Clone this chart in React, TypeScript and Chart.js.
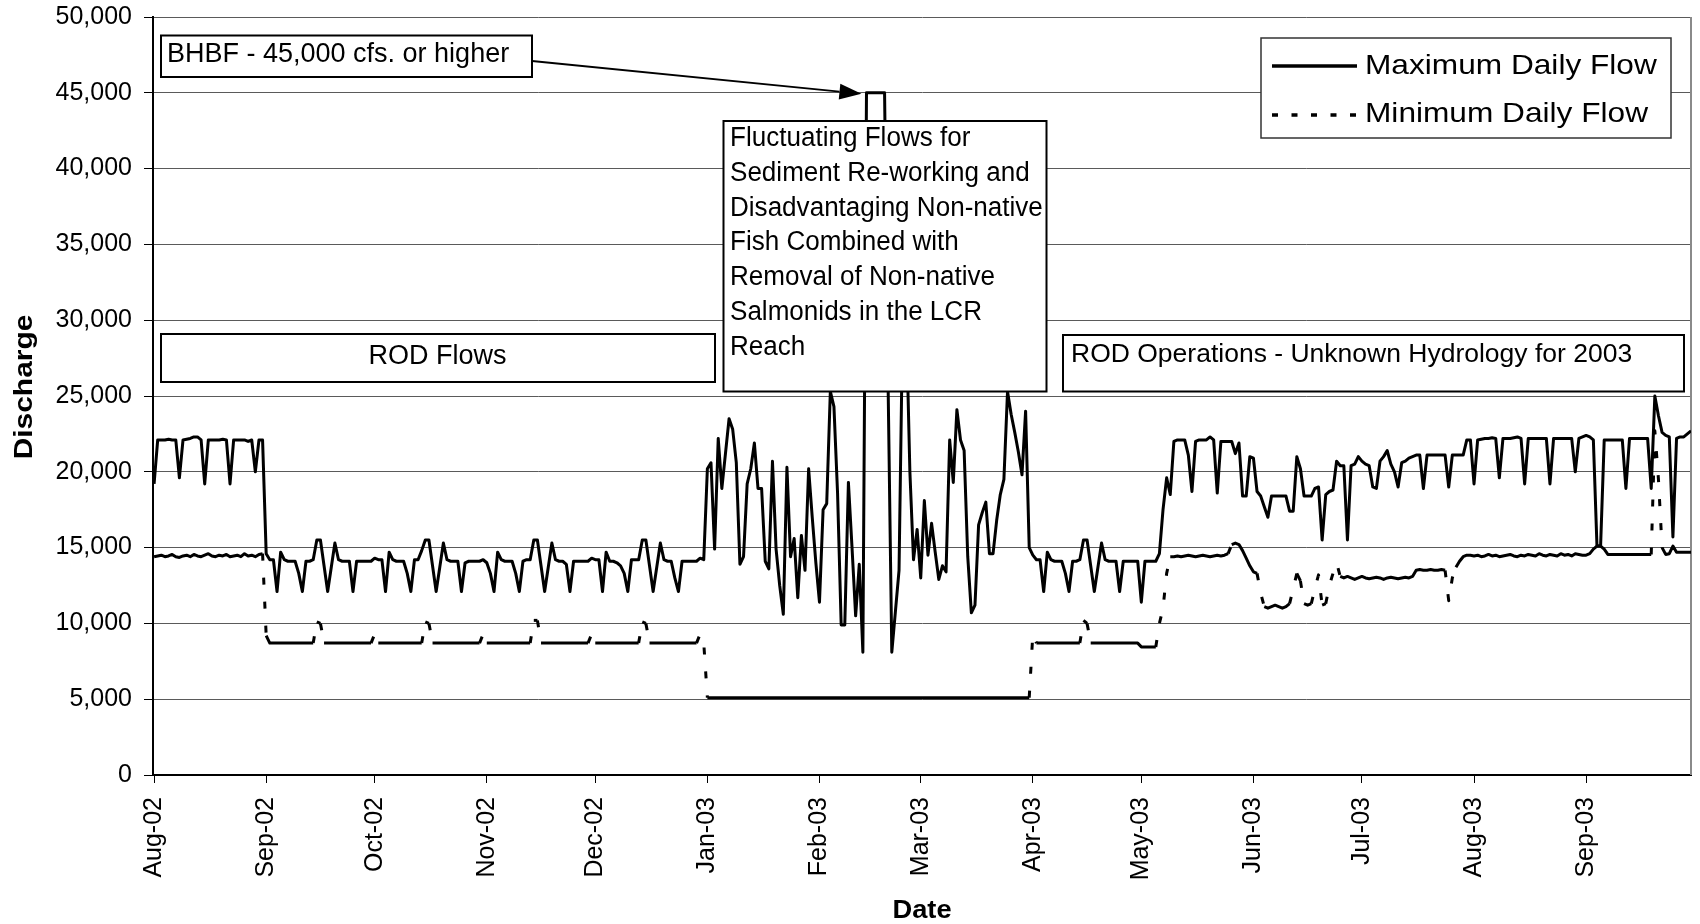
import React, { useEffect, useRef } from "react";
import { Chart, registerables } from "chart.js";

Chart.register(...registerables);

const FONT = '"Liberation Sans", Arial, Helvetica, sans-serif';

// ---- axis categories (day 0 = 1 Aug 2002, one point per day) ----
const startDate = "2002-08-01";
const monthLabels = ["Aug-02", "Sep-02", "Oct-02", "Nov-02", "Dec-02", "Jan-03", "Feb-03", "Mar-03", "Apr-03", "May-03", "Jun-03", "Jul-03", "Aug-03", "Sep-03"];
const monthStartDays = [0, 31, 61, 92, 122, 153, 184, 212, 243, 273, 304, 334, 365, 396];
const lastDay = 425;
const yMin = 0;
const yMax = 50000;
const yStep = 5000;

// ---- Maximum daily flow (cfs), one value per day, by month ----
const maxAug02 = [19200, 22100, 22100, 22100, 22150, 22100, 22100, 19600, 22100, 22150, 22200, 22300, 22300, 22100, 19200, 22100, 22100, 22100, 22100, 22150, 22100, 19200, 22100, 22100, 22100, 22100, 22000, 22100, 20000, 22100, 22100];
const maxSep02 = [14600, 14200, 14200, 12100, 14700, 14200, 14100, 14100, 14100, 13300, 12100, 14100, 14100, 14200, 15500, 15500, 13800, 12100, 13700, 15300, 14200, 14100, 14100, 14100, 12100, 14100, 14100, 14100, 14100, 14100];
const maxOct02 = [14300, 14200, 14200, 12100, 14700, 14200, 14100, 14100, 14100, 13300, 12100, 14200, 14200, 14800, 15500, 15500, 13800, 12100, 13700, 15300, 14200, 14100, 14100, 14100, 12100, 14000, 14100, 14100, 14100, 14100, 14200];
const maxNov02 = [14000, 13300, 12100, 14700, 14200, 14100, 14100, 14100, 13300, 12100, 14100, 14200, 14200, 15500, 15500, 13800, 12100, 13700, 15300, 14200, 14100, 14100, 13900, 12100, 14100, 14100, 14100, 14100, 14100, 14300];
const maxDec02 = [14200, 14200, 12100, 14700, 14100, 14100, 14000, 13800, 13300, 12100, 14200, 14200, 14200, 15500, 15500, 13800, 12100, 13700, 15300, 14200, 14100, 14100, 13000, 12100, 14100, 14100, 14100, 14100, 14100, 14300, 14200];
const maxJan03 = [20200, 20600, 14900, 22200, 18900, 21200, 23500, 22800, 20600, 13900, 14400, 19200, 20200, 21900, 18900, 18900, 14100, 13600, 20700, 14900, 12500, 10600, 20300, 14400, 15600, 11700, 15800, 13500, 20200, 17000, 14000];
const maxFeb03 = [11400, 17500, 17900, 25300, 24300, 18600, 9900, 9900, 19300, 15000, 10500, 13900, 8100, 45000, 45000, 45000, 45000, 45000, 45000, 25300, 8100, 10800, 13500, 30000, 30000, 20000, 14200, 16200];
const maxMar03 = [13000, 18100, 14500, 16600, 14700, 12900, 13800, 13400, 22100, 19300, 24100, 22100, 21400, 14400, 10700, 11200, 16500, 17300, 18000, 14600, 14600, 16800, 18500, 19500, 25300, 23800, 22600, 21300, 19800, 24000, 15000];
const maxApr03 = [14500, 14200, 14200, 12100, 14700, 14200, 14100, 14100, 14100, 13300, 12100, 14100, 14100, 14200, 15500, 15500, 13800, 12100, 13700, 15300, 14200, 14100, 14100, 14100, 12100, 14100, 14100, 14100, 14100, 14100];
const maxMay03 = [11400, 14100, 14100, 14100, 14100, 14600, 17500, 19600, 18500, 22000, 22100, 22100, 22100, 21100, 18700, 22000, 22100, 22100, 22100, 22300, 22100, 18600, 22000, 22000, 22000, 22000, 21200, 21900, 18400, 18400, 21000];
const maxJun03 = [20900, 18700, 18400, 17700, 17000, 18400, 18400, 18400, 18400, 18400, 17400, 17400, 21000, 20200, 18400, 18400, 18400, 18900, 19000, 15500, 18500, 18700, 18800, 20700, 20400, 20400, 15500, 20400, 20500, 21000];
const maxJul03 = [20700, 20500, 20400, 19000, 18900, 20700, 21000, 21400, 20500, 20000, 19000, 20600, 20700, 20900, 21000, 21100, 21100, 18900, 21100, 21100, 21100, 21100, 21100, 21100, 19000, 21100, 21100, 21100, 21100, 22100, 22100];
const maxAug03 = [19200, 22100, 22150, 22200, 22200, 22250, 22200, 19600, 22200, 22200, 22200, 22250, 22300, 22200, 19200, 22200, 22200, 22200, 22200, 22200, 22200, 19200, 22200, 22200, 22200, 22200, 22200, 22200, 20000, 22200, 22300];
const maxSep03 = [22400, 22300, 22100, 15100, 15100, 22100, 22100, 22100, 22100, 22100, 22100, 18900, 22200, 22200, 22200, 22200, 22200, 22200, 18900, 25000, 23700, 22600, 22400, 22300, 15700, 22200, 22300, 22300, 22500, 22700];

// ---- Minimum daily flow (cfs), one value per day, by month ----
const minAug02 = [14400, 14450, 14500, 14400, 14450, 14550, 14400, 14350, 14450, 14500, 14400, 14550, 14450, 14400, 14500, 14600, 14450, 14400, 14500, 14450, 14550, 14400, 14450, 14500, 14400, 14600, 14450, 14500, 14400, 14550, 14600];
const minSep02 = [9200, 8700, 8700, 8700, 8700, 8700, 8700, 8700, 8700, 8700, 8700, 8700, 8700, 8700, 10100, 10000, 8700, 8700, 8700, 8700, 8700, 8700, 8700, 8700, 8700, 8700, 8700, 8700, 8700, 8700];
const minOct02 = [9300, 8700, 8700, 8700, 8700, 8700, 8700, 8700, 8700, 8700, 8700, 8700, 8700, 8700, 10100, 10000, 8700, 8700, 8700, 8700, 8700, 8700, 8700, 8700, 8700, 8700, 8700, 8700, 8700, 8700, 9300];
const minNov02 = [8700, 8700, 8700, 8700, 8700, 8700, 8700, 8700, 8700, 8700, 8700, 8700, 8700, 10200, 10200, 8700, 8700, 8700, 8700, 8700, 8700, 8700, 8700, 8700, 8700, 8700, 8700, 8700, 8700, 9300];
const minDec02 = [8700, 8700, 8700, 8700, 8700, 8700, 8700, 8700, 8700, 8700, 8700, 8700, 8700, 10100, 10000, 8700, 8700, 8700, 8700, 8700, 8700, 8700, 8700, 8700, 8700, 8700, 8700, 8700, 8700, 9300, 8700];
const minJan03 = [5100, 5100, 5100, 5100, 5100, 5100, 5100, 5100, 5100, 5100, 5100, 5100, 5100, 5100, 5100, 5100, 5100, 5100, 5100, 5100, 5100, 5100, 5100, 5100, 5100, 5100, 5100, 5100, 5100, 5100, 5100];
const minFeb03 = [5100, 5100, 5100, 5100, 5100, 5100, 5100, 5100, 5100, 5100, 5100, 5100, 5100, 5100, 5100, 5100, 5100, 5100, 5100, 5100, 5100, 5100, 5100, 5100, 5100, 5100, 5100, 5100];
const minMar03 = [5100, 5100, 5100, 5100, 5100, 5100, 5100, 5100, 5100, 5100, 5100, 5100, 5100, 5100, 5100, 5100, 5100, 5100, 5100, 5100, 5100, 5100, 5100, 5100, 5100, 5100, 5100, 5100, 5100, 5100, 5100];
const minApr03 = [9300, 8700, 8700, 8700, 8700, 8700, 8700, 8700, 8700, 8700, 8700, 8700, 8700, 8700, 10200, 10000, 8700, 8700, 8700, 8700, 8700, 8700, 8700, 8700, 8700, 8700, 8700, 8700, 8700, 8700];
const minMay03 = [8450, 8450, 8450, 8450, 8450, 10000, 11000, 13300, 14400, 14400, 14450, 14400, 14450, 14500, 14450, 14400, 14450, 14500, 14450, 14400, 14450, 14500, 14450, 14500, 14600, 15200, 15300, 15200, 14800, 14300, 13800];
const minJun03 = [13400, 13300, 12000, 11100, 11000, 11100, 11200, 11100, 11000, 11100, 11300, 12300, 13300, 12800, 11300, 11200, 11300, 12300, 13200, 11200, 11300, 12500, 13300, 14000, 13100, 13000, 13100, 13000, 12900, 13000];
const minJul03 = [13100, 13000, 12950, 13000, 13050, 13000, 12900, 13000, 13050, 13000, 12950, 13000, 13050, 13000, 13100, 13500, 13550, 13500, 13500, 13550, 13500, 13500, 13550, 13500, 11500, 13000, 13700, 14100, 14400, 14500, 14500];
const minAug03 = [14450, 14500, 14400, 14450, 14550, 14450, 14500, 14400, 14450, 14500, 14550, 14450, 14400, 14500, 14450, 14550, 14500, 14450, 14600, 14500, 14450, 14550, 14500, 14450, 14600, 14500, 14550, 14450, 14600, 14550, 14500];
const minSep03 = [14500, 14600, 14900, 15100, 15100, 14900, 14550, 14550, 14550, 14550, 14550, 14550, 14550, 14550, 14550, 14550, 14550, 14550, 14550, 22700, 19500, 15000, 14550, 14600, 15100, 14700, 14700, 14700, 14700, 14700];

const maxFlow = [...maxAug02, ...maxSep02, ...maxOct02, ...maxNov02, ...maxDec02, ...maxJan03, ...maxFeb03, ...maxMar03, ...maxApr03, ...maxMay03, ...maxJun03, ...maxJul03, ...maxAug03, ...maxSep03];
const minFlow = [...minAug02, ...minSep02, ...minOct02, ...minNov02, ...minDec02, ...minJan03, ...minFeb03, ...minMar03, ...minApr03, ...minMay03, ...minJun03, ...minJul03, ...minAug03, ...minSep03];

// ---- texts ----
const legendLabels = ["Maximum Daily Flow", "Minimum Daily Flow"];
const yTitle = "Discharge";
const xTitle = "Date";
const noteBHBF = "BHBF - 45,000 cfs. or higher";
const noteRod = "ROD Flows";
const noteFluct = ["Fluctuating Flows for", "Sediment Re-working and", "Disadvantaging Non-native", "Fish Combined with", "Removal of Non-native", "Salmonids in the LCR", "Reach"];
const noteRodOps = "ROD Operations - Unknown Hydrology for 2003";
const bhbfLevel = 45000;
const bhbfArrowDay = 195.6;

function drawText(ctx: CanvasRenderingContext2D, text: string, x: number, y: number, size: number, opts: { bold?: boolean; sx?: number; align?: CanvasTextAlign; rot?: number } = {}) {
  ctx.save();
  ctx.font = `${opts.bold ? "bold " : ""}${size}px ${FONT}`;
  ctx.fillStyle = "#000";
  ctx.textBaseline = "alphabetic";
  ctx.textAlign = opts.align || "left";
  ctx.translate(x, y);
  if (opts.rot) ctx.rotate(opts.rot);
  ctx.scale(opts.sx || 1, 1);
  ctx.fillText(text, 0, 0);
  ctx.restore();
}

function drawBox(ctx: CanvasRenderingContext2D, x: number, y: number, w: number, h: number, color = "#000", lw = 2) {
  ctx.save();
  ctx.fillStyle = "#fff";
  ctx.fillRect(x, y, w, h);
  ctx.strokeStyle = color;
  ctx.lineWidth = lw;
  ctx.strokeRect(x, y, w, h);
  ctx.restore();
}

const overlayPlugin = {
  id: "overlay",
  beforeDatasetsDraw(chart: any) {
    const { ctx, chartArea: a } = chart;
    ctx.save();
    ctx.strokeStyle = "#8a8a8a";
    ctx.lineWidth = 2;
    ctx.beginPath();
    ctx.moveTo(a.right, a.top);
    ctx.lineTo(a.right, a.bottom);
    ctx.stroke();
    ctx.restore();
  },
  afterDatasetsDraw(chart: any) {
    const { ctx, chartArea: a, scales } = chart;

    // BHBF note + arrow
    drawBox(ctx, 161, 35.5, 371, 41.5);
    drawText(ctx, noteBHBF, 167, 62, 27);
    const tipX = scales.x.getPixelForValue(bhbfArrowDay);
    const tipY = scales.y.getPixelForValue(bhbfLevel) + 1;
    const sx = 532, sy = 61;
    const ang = Math.atan2(tipY - sy, tipX - sx);
    const hl = 22, hw = 8;
    const bx = tipX - hl * Math.cos(ang), by = tipY - hl * Math.sin(ang);
    ctx.save();
    ctx.strokeStyle = "#000";
    ctx.fillStyle = "#000";
    ctx.lineWidth = 2;
    ctx.beginPath();
    ctx.moveTo(sx, sy);
    ctx.lineTo(bx, by);
    ctx.stroke();
    ctx.beginPath();
    ctx.moveTo(tipX, tipY);
    ctx.lineTo(bx + hw * Math.sin(ang), by - hw * Math.cos(ang));
    ctx.lineTo(bx - hw * Math.sin(ang), by + hw * Math.cos(ang));
    ctx.closePath();
    ctx.fill();
    ctx.restore();

    // ROD Flows
    drawBox(ctx, 161, 334, 554, 48);
    drawText(ctx, noteRod, 437.5, 364, 27, { align: "center" });

    // Fluctuating flows note
    drawBox(ctx, 723.5, 121, 323, 270.5);
    noteFluct.forEach((line, i) => drawText(ctx, line, 730, 146 + i * 34.8, 27, { sx: 0.965 }));

    // ROD operations
    drawBox(ctx, 1063, 335, 621, 56.5);
    drawText(ctx, noteRodOps, 1071, 362, 26.5);

    // Legend
    drawBox(ctx, 1261, 38, 410, 100, "#333", 1.5);
    ctx.save();
    ctx.strokeStyle = "#000";
    ctx.lineWidth = 3.3;
    ctx.beginPath();
    ctx.moveTo(1272, 66);
    ctx.lineTo(1357, 66);
    ctx.stroke();
    ctx.setLineDash([6, 13.5]);
    ctx.beginPath();
    ctx.moveTo(1272, 115);
    ctx.lineTo(1357, 115);
    ctx.stroke();
    ctx.restore();
    drawText(ctx, legendLabels[0], 1365, 74, 28, { sx: 1.13 });
    drawText(ctx, legendLabels[1], 1365, 122, 28, { sx: 1.13 });

    // axis titles
    drawText(ctx, yTitle, 32, 387, 26, { bold: true, align: "center", rot: -Math.PI / 2, sx: 1.15 });
    drawText(ctx, xTitle, (a.left + a.right) / 2, 918, 26, { bold: true, align: "center", sx: 1.05 });
  },
};

export default function App() {
  const ref = useRef<HTMLCanvasElement>(null);

  useEffect(() => {
    const canvas = ref.current;
    if (!canvas) return;
    Chart.defaults.font.family = FONT;
    Chart.defaults.color = "#000";

    const chart = new Chart(canvas, {
      type: "line",
      data: {
        datasets: [
          {
            label: legendLabels[0],
            data: maxFlow.map((v, i) => ({ x: i, y: v })),
            borderColor: "#000",
            borderWidth: 3,
            pointRadius: 0,
            tension: 0,
            borderJoinStyle: "round",
            fill: false,
            order: 1,
          },
          {
            label: legendLabels[1],
            data: minFlow.map((v, i) => ({ x: i, y: v })),
            borderColor: "#000",
            borderWidth: 3,
            pointRadius: 0,
            tension: 0,
            borderJoinStyle: "round",
            fill: false,
            order: 2,
            segment: {
              borderDash: (c: any) => (Math.abs(c.p1.y - c.p0.y) > 8 ? [7, 17] : undefined),
            },
          },
        ],
      },
      options: {
        animation: false,
        responsive: false,
        devicePixelRatio: 1,
        parsing: false,
        normalized: true,
        layout: { padding: { top: 17, right: 9, left: 0, bottom: 0 } },
        plugins: {
          legend: { display: false },
          tooltip: { enabled: false },
          title: { display: false },
        },
        scales: {
          x: {
            type: "linear",
            min: -0.3,
            max: lastDay,
            afterBuildTicks: (s: any) => {
              s.ticks = monthStartDays.map((v) => ({ value: v }));
            },
            afterFit: (s: any) => {
              s.height = 149;
              s.paddingLeft = 0;
              s.paddingRight = 0;
            },
            ticks: {
              autoSkip: false,
              minRotation: 90,
              maxRotation: 90,
              padding: 14,
              color: "#000",
              font: { size: 25, family: FONT },
              callback: (v: any) => {
                const k = monthStartDays.indexOf(Number(v));
                return k >= 0 ? monthLabels[k] : "";
              },
            },
            grid: { drawOnChartArea: false, drawTicks: true, tickLength: 8, tickColor: "#000", color: "#000" },
            border: { display: true, color: "#000", width: 2 },
          },
          y: {
            min: yMin,
            max: yMax,
            afterFit: (s: any) => {
              s.width = 153;
              s.paddingTop = 0;
              s.paddingBottom = 0;
            },
            ticks: {
              stepSize: yStep,
              padding: 12,
              color: "#000",
              font: { size: 25, family: FONT },
              callback: (v: any) => Number(v).toLocaleString("en-US"),
            },
            grid: { color: "#5a5a5a", lineWidth: 1, drawTicks: true, tickLength: 9, tickColor: "#000" },
            border: { display: true, color: "#000", width: 2 },
          },
        },
      } as any,
      plugins: [overlayPlugin],
    });
    return () => chart.destroy();
  }, []);

  return (
    <div style={{ position: "fixed", left: 0, top: 0, width: 1700, height: 924, background: "#fff" }} data-start={startDate}>
      <canvas ref={ref} width={1700} height={924} style={{ display: "block", width: 1700, height: 924 }} />
    </div>
  );
}
